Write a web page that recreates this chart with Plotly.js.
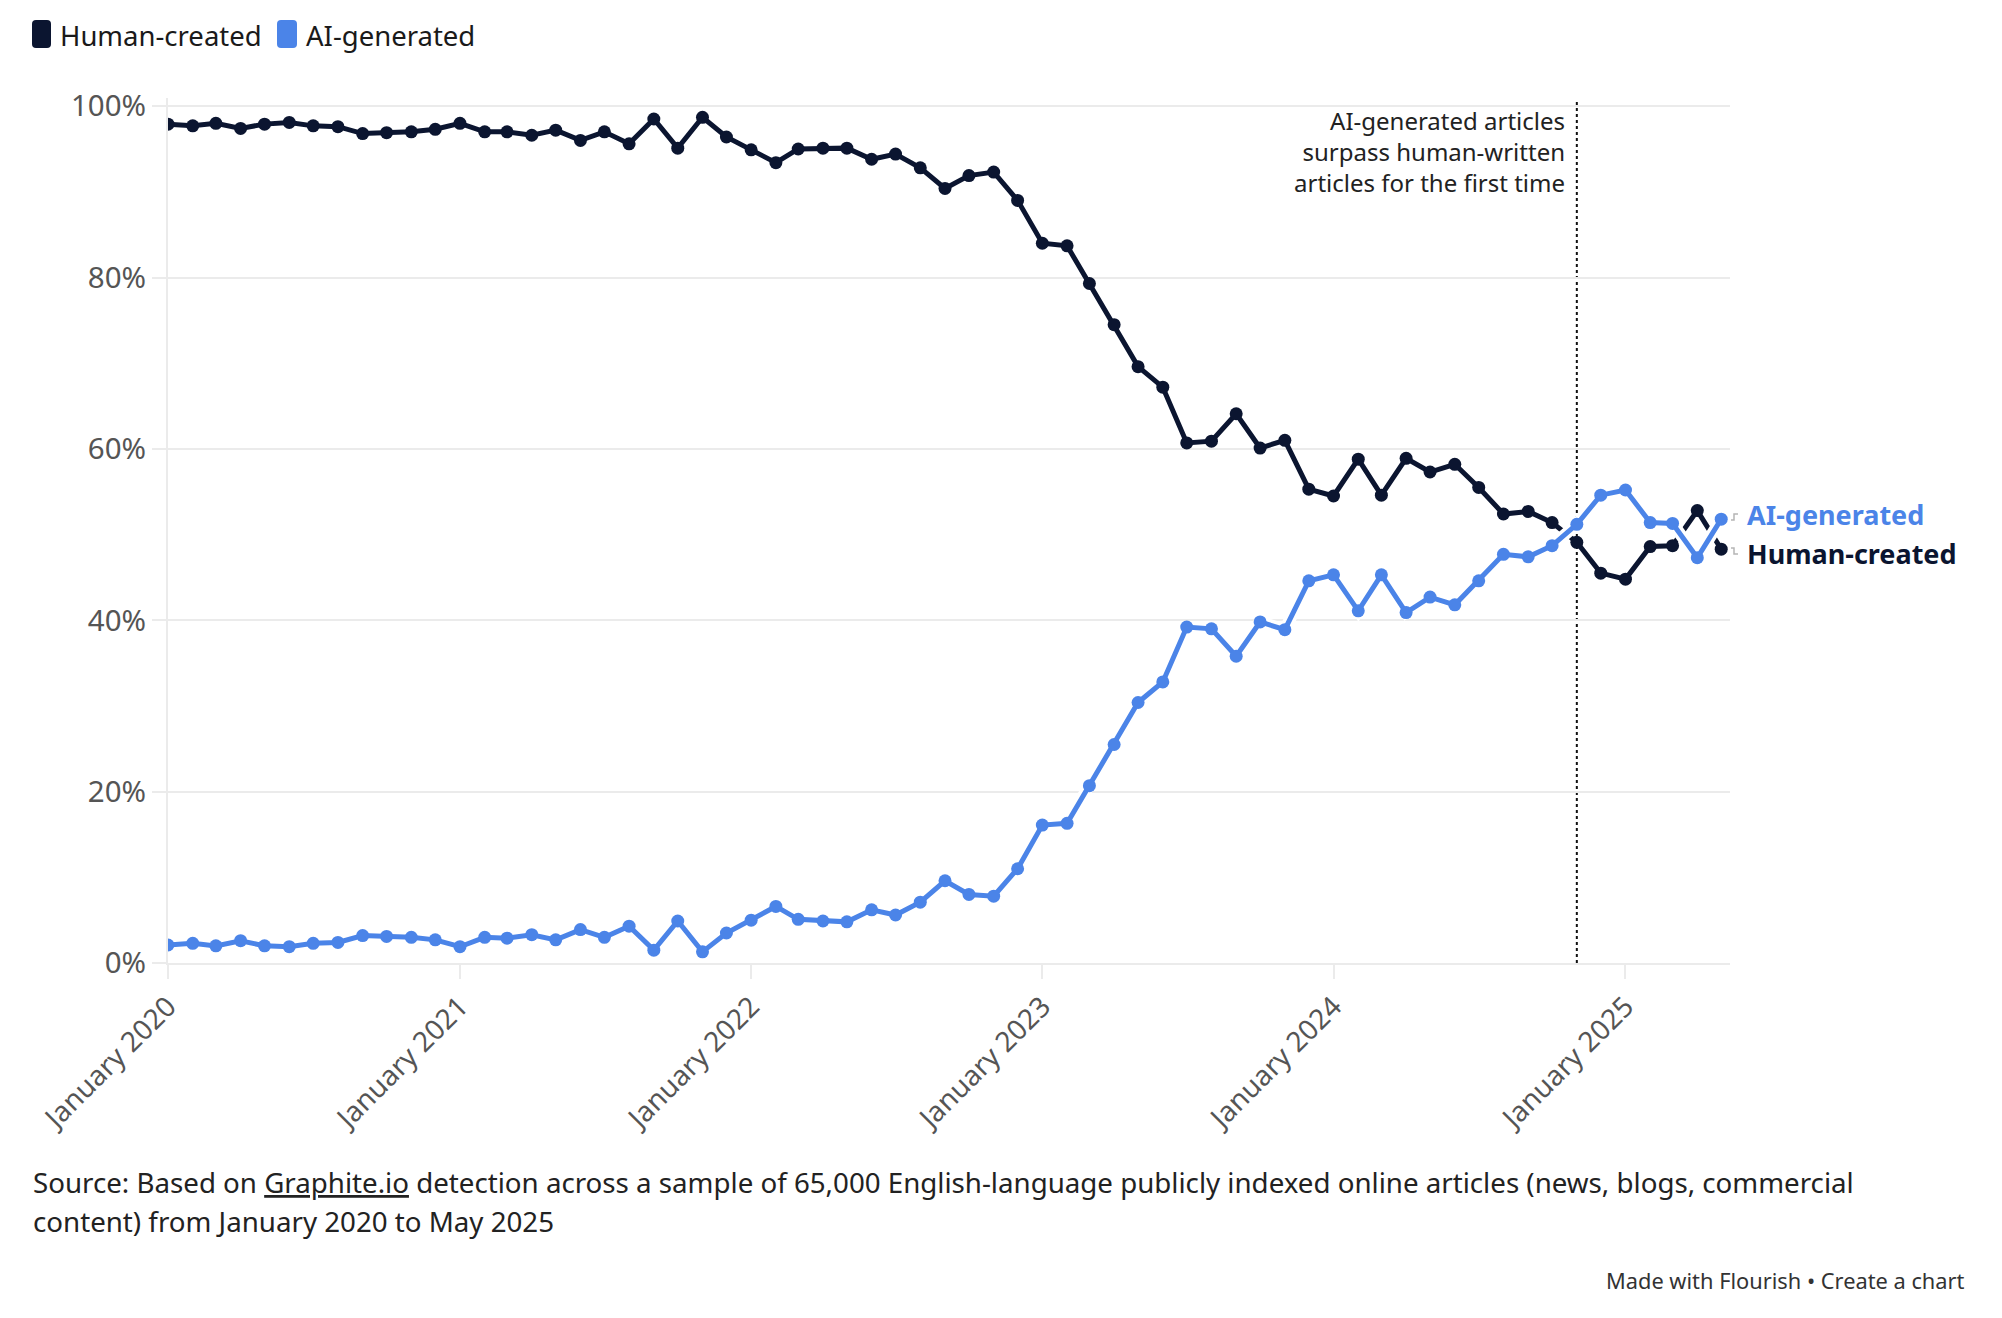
<!DOCTYPE html>
<html>
<head>
<meta charset="utf-8">
<script src="https://cdn.plot.ly/plotly-3.0.1.min.js"></script>
<style>
  html, body { margin: 0; padding: 0; background: #ffffff; }
  #chart { width: 2002px; height: 1318px; }
</style>
</head>
<body>
<div id="chart"></div>
<script>
// ---- Data (monthly, January 2020 – May 2025), values in % ----
const months = [
  "2020-01-01","2020-02-01","2020-03-01","2020-04-01","2020-05-01","2020-06-01","2020-07-01","2020-08-01","2020-09-01","2020-10-01","2020-11-01","2020-12-01",
  "2021-01-01","2021-02-01","2021-03-01","2021-04-01","2021-05-01","2021-06-01","2021-07-01","2021-08-01","2021-09-01","2021-10-01","2021-11-01","2021-12-01",
  "2022-01-01","2022-02-01","2022-03-01","2022-04-01","2022-05-01","2022-06-01","2022-07-01","2022-08-01","2022-09-01","2022-10-01","2022-11-01","2022-12-01",
  "2023-01-01","2023-02-01","2023-03-01","2023-04-01","2023-05-01","2023-06-01","2023-07-01","2023-08-01","2023-09-01","2023-10-01","2023-11-01","2023-12-01",
  "2024-01-01","2024-02-01","2024-03-01","2024-04-01","2024-05-01","2024-06-01","2024-07-01","2024-08-01","2024-09-01","2024-10-01","2024-11-01","2024-12-01",
  "2025-01-01","2025-02-01","2025-03-01","2025-04-01","2025-05-01"
];
const humanCreated = [
  97.9, 97.7, 98.0, 97.4, 97.9, 98.1, 97.7, 97.6, 96.8, 96.9, 97.0, 97.3,
  98.0, 97.0, 97.0, 96.6, 97.2, 96.0, 97.0, 95.6, 98.5, 95.1, 98.7, 96.4,
  94.9, 93.4, 95.0, 95.1, 95.1, 93.8, 94.4, 92.8, 90.4, 91.9, 92.3, 89.0,
  84.0, 83.7, 79.3, 74.5, 69.6, 67.2, 60.7, 60.9, 64.1, 60.1, 61.0, 55.3,
  54.5, 58.8, 54.6, 58.9, 57.3, 58.2, 55.5, 52.4, 52.7, 51.4, 49.1, 45.5,
  44.8, 48.6, 48.7, 52.8, 48.3
];
const aiGenerated = [
  2.1, 2.3, 2.0, 2.6, 2.0, 1.9, 2.3, 2.4, 3.2, 3.1, 3.0, 2.7,
  1.9, 3.0, 2.9, 3.3, 2.7, 3.9, 3.0, 4.3, 1.5, 4.9, 1.3, 3.5,
  5.0, 6.6, 5.1, 4.9, 4.8, 6.2, 5.6, 7.1, 9.6, 8.0, 7.8, 11.0,
  16.1, 16.3, 20.7, 25.5, 30.4, 32.8, 39.2, 39.0, 35.8, 39.8, 38.9, 44.6,
  45.3, 41.1, 45.3, 40.9, 42.7, 41.8, 44.6, 47.7, 47.4, 48.7, 51.2, 54.6,
  55.2, 51.4, 51.3, 47.3, 51.8
];
const yearTicks = ["2020-01-01","2021-01-01","2022-01-01","2023-01-01","2024-01-01","2025-01-01"];
const yearTickLabels = ["January 2020","January 2021","January 2022","January 2023","January 2024","January 2025"];
const yTicks = [0, 20, 40, 60, 80, 100];
const yTickLabels = ["0%", "20%", "40%", "60%", "80%", "100%"];
const seriesNames = ["Human-created", "AI-generated"];
const annotationDate = "2024-11-01";
const annotationText = "AI-generated articles<br>surpass human-written<br>articles for the first time";
const sourceLine1 = "Source: Based on <u>Graphite.io</u> detection across a sample of 65,000 English-language publicly indexed online articles (news, blogs, commercial";
const sourceLine2 = "content) from January 2020 to May 2025";
const footerText = "Made with Flourish • Create a chart";

// ---- Styles ----
const HUMAN = "#0b1530";
const AI = "#4b84e8";
const FONT = "Noto Sans, Open Sans, sans-serif";
const W = 2002, H = 1318;
const M = { l: 168, r: 272, t: 98, b: 355 };
const PW = W - M.l - M.r, PH = H - M.t - M.b;
const px = v => (v - M.l) / PW;          // page pixel -> paper x
const py = v => (H - M.b - v) / PH;      // page pixel -> paper y

function roundRect(x0, y0, x1, y1, r) {
  const a = px(x0), b = px(x1), c = py(y0), d = py(y1);
  const rx = r / PW, ry = r / PH;
  return `M ${a + rx} ${c} L ${b - rx} ${c} Q ${b} ${c} ${b} ${c - ry} L ${b} ${d + ry} Q ${b} ${d} ${b - rx} ${d} ` +
         `L ${a + rx} ${d} Q ${a} ${d} ${a} ${d + ry} L ${a} ${c - ry} Q ${a} ${c} ${a + rx} ${c} Z`;
}

const traces = [
  {
    x: months, y: humanCreated, name: seriesNames[0], type: "scatter", mode: "lines+markers",
    line: { color: HUMAN, width: 5 }, marker: { color: HUMAN, size: 13 }, hoverinfo: "skip"
  },
  {
    x: months, y: aiGenerated, name: "halo", type: "scatter", mode: "lines",
    line: { color: "#ffffff", width: 12 }, hoverinfo: "skip", showlegend: false
  },
  {
    x: months, y: aiGenerated, name: seriesNames[1], type: "scatter", mode: "lines+markers",
    line: { color: AI, width: 5 }, marker: { color: AI, size: 13 }, hoverinfo: "skip"
  }
];

const layout = {
  width: W, height: H,
  margin: M,
  paper_bgcolor: "#ffffff", plot_bgcolor: "#ffffff",
  showlegend: false,
  font: { family: FONT, color: "#555555" },
  xaxis: {
    type: "date",
    range: ["2020-01-01", "2025-05-12"],
    tickvals: yearTicks, ticktext: yearTickLabels,
    tickangle: -45,
    tickfont: { size: 28, color: "#555555", family: FONT },
    ticks: "outside", ticklen: 14, tickwidth: 2, tickcolor: "#ebebeb",
    showgrid: false, zeroline: false,
    showline: true, linecolor: "#ebebeb", linewidth: 2,
    fixedrange: true
  },
  yaxis: {
    range: [0, 100.95],
    tickmode: "array", tickvals: yTicks, ticktext: yTickLabels,
    tickfont: { size: 29.5, color: "#555555", family: FONT },
    ticks: "outside", ticklen: 14, tickwidth: 2, tickcolor: "#ebebeb",
    showgrid: true, gridcolor: "#ebebeb", gridwidth: 2,
    zeroline: false, showline: true, linecolor: "#ebebeb", linewidth: 2,
    fixedrange: true
  },
  shapes: [
    { type: "line", xref: "x", yref: "paper", x0: annotationDate, x1: annotationDate, y0: 0, y1: py(99),
      line: { color: "#111111", width: 2, dash: "dot" }, layer: "below" },
    { type: "path", xref: "paper", yref: "paper", path: roundRect(32, 20, 51, 48, 4), fillcolor: HUMAN, line: { width: 0 } },
    { type: "path", xref: "paper", yref: "paper", path: roundRect(277, 20, 297, 48, 4), fillcolor: AI, line: { width: 0 } },
    { type: "path", xref: "paper", yref: "paper",
      path: `M ${px(1731)} ${py(520)} L ${px(1734)} ${py(520)} L ${px(1734)} ${py(514)} L ${px(1738)} ${py(514)}`,
      line: { color: "#b5b5b5", width: 1.5 } },
    { type: "path", xref: "paper", yref: "paper",
      path: `M ${px(1731)} ${py(548)} L ${px(1734)} ${py(548)} L ${px(1734)} ${py(554)} L ${px(1738)} ${py(554)}`,
      line: { color: "#b5b5b5", width: 1.5 } }
  ],
  annotations: [
    { xref: "paper", yref: "paper", x: px(58), y: py(35), xanchor: "left", yanchor: "middle", showarrow: false,
      text: seriesNames[0], font: { size: 27.5, color: "#1a1a1a", family: FONT } },
    { xref: "paper", yref: "paper", x: px(304), y: py(35), xanchor: "left", yanchor: "middle", showarrow: false,
      text: seriesNames[1], font: { size: 27.5, color: "#1a1a1a", family: FONT } },
    { xref: "paper", yref: "paper", x: px(1567), y: py(151), xanchor: "right", yanchor: "middle", align: "right", showarrow: false,
      text: annotationText, font: { size: 24, color: "#222222", family: FONT } },
    { xref: "paper", yref: "paper", x: px(1745), y: py(514), xanchor: "left", yanchor: "middle", showarrow: false,
      text: "<b>" + seriesNames[1] + "</b>", font: { size: 27, color: AI, family: FONT } },
    { xref: "paper", yref: "paper", x: px(1745), y: py(553), xanchor: "left", yanchor: "middle", showarrow: false,
      text: "<b>" + seriesNames[0] + "</b>", font: { size: 27, color: HUMAN, family: FONT } },
    { xref: "paper", yref: "paper", x: px(31), y: py(1182), xanchor: "left", yanchor: "middle", showarrow: false,
      text: sourceLine1, font: { size: 27.7, color: "#222222", family: FONT } },
    { xref: "paper", yref: "paper", x: px(31), y: py(1221), xanchor: "left", yanchor: "middle", showarrow: false,
      text: sourceLine2, font: { size: 27.7, color: "#222222", family: FONT } },
    { xref: "paper", yref: "paper", x: px(1967), y: py(1280), xanchor: "right", yanchor: "middle", showarrow: false,
      text: footerText, font: { size: 21.8, color: "#333333", family: FONT } }
  ]
};

Plotly.newPlot("chart", traces, layout, { displayModeBar: false, staticPlot: true });
</script>
</body>
</html>
